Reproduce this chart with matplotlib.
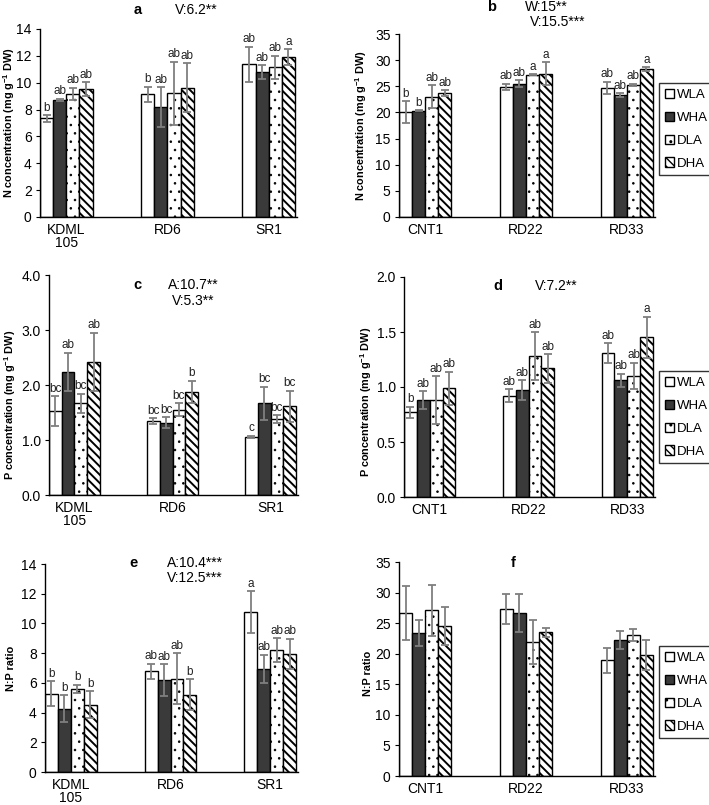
import matplotlib
matplotlib.use("Agg")
import matplotlib.pyplot as plt
import numpy as np

plt.rcParams['font.family'] = ['Liberation Sans', 'DejaVu Sans']
plt.rcParams['mathtext.fontset'] = 'custom'
plt.rcParams['mathtext.rm'] = 'Liberation Sans:bold'
plt.rcParams['mathtext.bf'] = 'Liberation Sans:bold'

treatments = ['WLA', 'WHA', 'DLA', 'DHA']
cult_left = ['KDML\n105', 'RD6', 'SR1']
cult_right = ['CNT1', 'RD22', 'RD33']

# rows = treatments (WLA, WHA, DLA, DHA), cols = cultivars
n_left = [[7.35, 9.14, 11.38], [8.72, 8.17, 10.79], [9.17, 9.22, 11.16], [9.52, 9.64, 11.9]]
n_left_err = [[0.25, 0.55, 1.3], [0.1, 1.5, 0.5], [0.45, 2.35, 0.85], [0.5, 1.8, 0.6]]
n_left_sig = [['b', 'b', 'ab'], ['ab', 'ab', 'ab'], ['ab', 'ab', 'ab'], ['ab', 'ab', 'a']]

n_right = [[20.1, 24.9, 24.7], [20.3, 25.5, 23.3], [23.0, 27.2, 25.3], [23.7, 27.4, 28.3]]
n_right_err = [[2.1, 0.6, 1.2], [0.1, 0.7, 0.4], [2.2, 0.1, 0.2], [0.6, 2.2, 0.3]]
n_right_sig = [['b', 'ab', 'ab'], ['b', 'ab', 'ab'], ['ab', 'a', 'ab'], ['ab', 'a', 'a']]

p_left = [[1.53, 1.35, 1.06], [2.24, 1.31, 1.67], [1.67, 1.55, 1.38], [2.42, 1.88, 1.61]]
p_left_err = [[0.27, 0.05, 0.02], [0.35, 0.1, 0.3], [0.17, 0.12, 0.07], [0.53, 0.2, 0.29]]
p_left_sig = [['bc', 'bc', 'c'], ['ab', 'bc', 'bc'], ['bc', 'bc', 'bc'], ['ab', 'b', 'bc']]

p_right = [[0.77, 0.92, 1.31], [0.88, 0.97, 1.06], [0.88, 1.28, 1.10], [0.99, 1.17, 1.45]]
p_right_err = [[0.05, 0.06, 0.09], [0.08, 0.09, 0.06], [0.22, 0.22, 0.12], [0.15, 0.13, 0.19]]
p_right_sig = [['b', 'ab', 'ab'], ['ab', 'ab', 'ab'], ['ab', 'ab', 'ab'], ['ab', 'ab', 'a']]

np_left = [[5.28, 6.78, 10.76], [4.25, 6.17, 6.93], [5.59, 6.29, 8.19], [4.54, 5.21, 7.96]]
np_left_err = [[0.85, 0.5, 1.4], [0.9, 1.08, 0.97], [0.28, 1.7, 0.8], [0.9, 1.05, 1.0]]
np_left_sig = [['b', 'ab', 'a'], ['b', 'ab', 'ab'], ['b', 'ab', 'ab'], ['b', 'b', 'ab']]

np_right = [[26.7, 27.3, 18.9], [23.4, 26.6, 22.2], [27.1, 21.9, 23.0], [24.5, 23.5, 19.8]]
np_right_err = [[4.4, 2.4, 2.1], [2.1, 3.1, 1.5], [4.2, 3.6, 1.0], [3.1, 0.7, 2.4]]

W, H = 709, 805
fig = plt.figure(figsize=(W / 100, H / 100), dpi=100)

face = ['white', '#3a3a3a', 'white', 'white']
hatches = [None, None, '..', '\\\\\\\\']
hatch_lw = [1.0, 1.0, 0.6, 1.4]
width = 0.13
offsets = [-1.5 * width, -0.5 * width, 0.5 * width, 1.5 * width]


def px_axes(l, r, t, b):
    return fig.add_axes([l / W, 1 - b / H, (r - l) / W, (b - t) / H])


def ftext(x, y, s, **kw):
    fig.text(x / W, 1 - y / H, s, va='center', **kw)


def panel(ax, cults, means, errs, sigs, ymax, ystep, fmt, ylabel, lab_xy):
    x = np.arange(len(cults))
    for i in range(4):
        with plt.rc_context({'hatch.linewidth': hatch_lw[i]}):
            ax.bar(x + offsets[i], means[i], width, color=face[i], edgecolor='black',
                   linewidth=1.0, hatch=hatches[i], label=treatments[i], zorder=2)
        ax.errorbar(x + offsets[i], means[i], yerr=errs[i], fmt='none', ecolor='#7f7f7f',
                    elinewidth=1.3, capsize=3, capthick=1.3, zorder=3)
        if sigs is not None:
            for j in range(len(cults)):
                ax.annotate(sigs[i][j], (x[j] + offsets[i], means[i][j] + errs[i][j]),
                            xytext=(0, 1), textcoords='offset points', ha='center',
                            va='bottom', fontsize=8.5, color='#222222', zorder=4)
    ax.set_xlim(-0.26, 2.28)
    ax.set_ylim(0, ymax)
    ticks = np.arange(0, ymax + ystep / 2, ystep)
    ax.set_yticks(ticks)
    ax.set_yticklabels([fmt.format(t) for t in ticks], fontsize=10)
    ax.set_xticks(x)
    ax.set_xticklabels(cults, fontsize=10, linespacing=0.95)
    ax.tick_params(axis='x', length=0, pad=4)
    ax.tick_params(axis='y', length=3, pad=3, direction='out')
    for s in ['top', 'right']:
        ax.spines[s].set_visible(False)
    ax.spines['left'].set_linewidth(1.0)
    ax.spines['bottom'].set_linewidth(1.0)
    ax.set_ylabel(ylabel, fontsize=7.8, fontweight='bold')
    ax.yaxis.set_label_coords(*lab_xy)


def add_legend(ax, top):
    leg = ax.legend(loc='upper left', bbox_to_anchor=(659 / W, 1 - top / H),
                    bbox_transform=fig.transFigure, fontsize=9.5, frameon=True,
                    fancybox=False, edgecolor='black', handlelength=0.7, handleheight=0.7,
                    handletextpad=0.2, labelspacing=0.8, borderpad=0.45, borderaxespad=0)
    leg.get_frame().set_linewidth(1.0)


n_label = r'N concentration (mg g$^{-1}$ DW)'
p_label = r'P concentration (mg g$^{-1}$ DW)'

ax_a = px_axes(40, 297, 29, 217)
panel(ax_a, cult_left, n_left, n_left_err, n_left_sig, 14, 2, '{:.0f}', n_label, (-0.09, 0.5))
ftext(138, 10, 'a', fontsize=10.5, fontweight='bold', ha='center')
ftext(175, 10, 'V:6.2**', fontsize=10)

ax_b = px_axes(399, 655, 34, 217)
panel(ax_b, cult_right, n_right, n_right_err, n_right_sig, 35, 5, '{:.0f}', n_label, (-0.117, 0.5))
add_legend(ax_b, 83)
ftext(492, 7, 'b', fontsize=10.5, fontweight='bold', ha='center')
ftext(525, 7, 'W:15**', fontsize=10)
ftext(530, 22, 'V:15.5***', fontsize=10)

ax_c = px_axes(49, 298, 275, 495)
panel(ax_c, cult_left, p_left, p_left_err, p_left_sig, 4, 1, '{:.1f}', p_label, (-0.125, 0.41))
ftext(137, 285, 'c', fontsize=10.5, fontweight='bold', ha='center')
ftext(193, 285, 'A:10.7**', fontsize=10, ha='center')
ftext(193, 301, 'V:5.3**', fontsize=10, ha='center')

ax_d = px_axes(404, 655, 277, 497)
panel(ax_d, cult_right, p_right, p_right_err, p_right_sig, 2, 0.5, '{:.1f}', p_label, (-0.12, 0.43))
add_legend(ax_d, 371)
ftext(498, 286, 'd', fontsize=10.5, fontweight='bold', ha='center')
ftext(535, 286, 'V:7.2**', fontsize=10)

ax_e = px_axes(45, 298, 564, 772)
panel(ax_e, cult_left, np_left, np_left_err, np_left_sig, 14, 2, '{:.0f}', 'N:P ratio', (-0.115, 0.5))
ftext(133, 563, 'e', fontsize=10.5, fontweight='bold', ha='center')
ftext(167, 563, 'A:10.4***', fontsize=10)
ftext(167, 578, 'V:12.5***', fontsize=10)

ax_f = px_axes(399, 655, 562, 776)
panel(ax_f, cult_right, np_right, np_right_err, None, 35, 5, '{:.0f}', 'N:P ratio', (-0.10, 0.48))
add_legend(ax_f, 646)
ftext(513, 563, 'f', fontsize=10.5, fontweight='bold', ha='center')

fig.savefig('out.png', dpi=100)
